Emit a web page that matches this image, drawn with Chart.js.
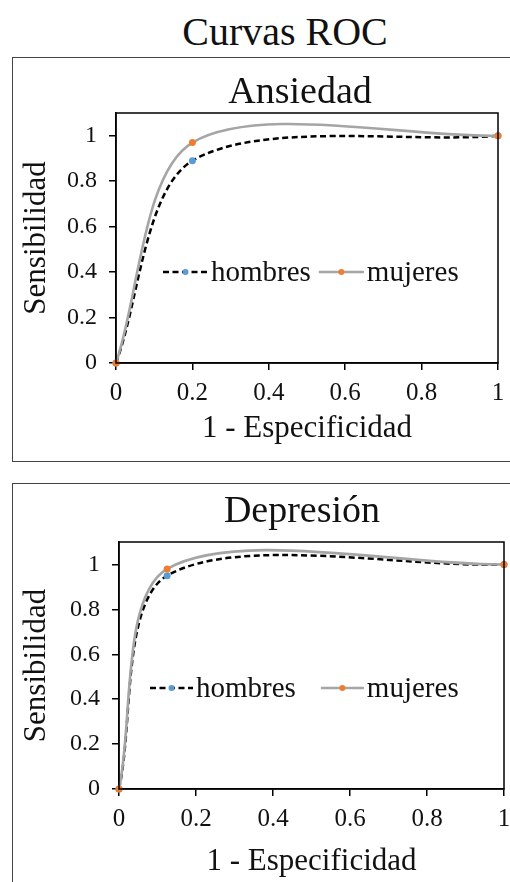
<!DOCTYPE html>
<html>
<head>
<meta charset="utf-8">
<script src="https://cdn.jsdelivr.net/npm/chart.js@4.4.1/dist/chart.umd.min.js"></script>
<style>
  html, body { margin: 0; padding: 0; background: #fff; }
  body { width: 510px; height: 882px; overflow: hidden; position: relative; font-family: "Liberation Serif", "Times New Roman", serif; color: #111; }
  #mainTitle { position: absolute; left: 0; top: 8px; width: 570px; text-align: center; font-size: 40px; }
  .panel { position: absolute; left: 12px; width: 520px; border: 1px solid #444; box-sizing: border-box; }
  .panel canvas { position: absolute; left: 0; top: 0; }
  .subTitle { position: absolute; width: 300px; text-align: center; font-size: 38px; line-height: 38px; white-space: nowrap; }
</style>
</head>
<body>
<div id="mainTitle">Curvas ROC</div>
<div class="panel" id="panel1" style="top:57px; height:405px;"><canvas id="chartAnsiedad"></canvas></div>
<div class="panel" id="panel2" style="top:483px; height:420px;"><canvas id="chartDepresion"></canvas></div>
<div class="subTitle" style="left:150px; top:71px;">Ansiedad</div>
<div class="subTitle" style="left:152px; top:490px;">Depresión</div>

<script>
// Data
const seriesNames = ['hombres', 'mujeres'];
const ansiedadX = [0, 0.2, 1];
const ansiedadHombres = [0, 0.89, 1];
const ansiedadMujeres = [0, 0.97, 1];
const depresionX = [0, 0.125, 1];
const depresionHombres = [0, 0.95, 1];
const depresionMujeres = [0, 0.98, 1];
const tickValues = [0, 0.2, 0.4, 0.6, 0.8, 1];

const FONT = '"Liberation Serif", "Times New Roman", serif';
const BLUE = '#5b9bd5';
const ORANGE = '#ed7d31';
const GRAY = '#a5a5a5';

function toPoints(xs, ys) {
    return xs.map(function(x, i) { return { x: x, y: ys[i] }; });
}

// Plot area frame
const framePlugin = {
    id: 'frame',
    afterDraw: function(chart) {
        const a = chart.chartArea;
        const ctx = chart.ctx;
        ctx.save();
        ctx.strokeStyle = '#000';
        ctx.lineWidth = 1.5;
        ctx.strokeRect(a.left, a.top, a.right - a.left, a.bottom - a.top);
        ctx.restore();
    }
};

// Legend drawn inside the plot area
const innerLegend = {
    id: 'innerLegend',
    afterDraw: function(chart, args, opts) {
        const a = chart.chartArea;
        const ctx = chart.ctx;
        const y = a.top + opts.dy;
        let x = a.left + opts.dx;
        ctx.save();
        ctx.font = '29px ' + FONT;
        ctx.textBaseline = 'middle';
        chart.data.datasets.forEach(function(ds, i) {
            ctx.strokeStyle = ds.borderColor;
            ctx.lineWidth = ds.borderWidth;
            ctx.setLineDash(ds.borderDash || []);
            ctx.beginPath();
            ctx.moveTo(x, y);
            ctx.lineTo(x + opts.lineLen, y);
            ctx.stroke();
            ctx.setLineDash([]);
            ctx.fillStyle = ds.pointBackgroundColor;
            ctx.beginPath();
            ctx.arc(x + opts.lineLen / 2, y, 3, 0, Math.PI * 2);
            ctx.fill();
            ctx.fillStyle = '#111';
            ctx.fillText(ds.label, x + opts.lineLen + 3, y + 1);
            x += opts.lineLen + 3 + ctx.measureText(ds.label).width + opts.gaps[i];
        });
        ctx.restore();
    }
};

function makeChart(id, xs, hombres, mujeres, box) {
    const ctx = document.getElementById(id);
    ctx.width = box.w;
    ctx.height = box.h;
    return new Chart(ctx, {
        type: 'scatter',
        data: {
            datasets: [{
                label: seriesNames[0],
                data: toPoints(xs, hombres),
                showLine: true,
                borderColor: '#000',
                borderWidth: 2.5,
                borderDash: [6, 3.5],
                tension: 0.3,
                pointRadius: 3.5,
                pointBackgroundColor: BLUE,
                pointBorderWidth: 0,
                order: 2
            }, {
                label: seriesNames[1],
                data: toPoints(xs, mujeres),
                showLine: true,
                borderColor: GRAY,
                borderWidth: 2.6,
                tension: 0.3,
                pointRadius: 3.5,
                pointBackgroundColor: ORANGE,
                pointBorderWidth: 0,
                order: 1
            }]
        },
        options: {
            responsive: false,
            animation: false,
            clip: false,
            layout: { padding: { top: box.top, right: box.right, bottom: 0, left: 0 } },
            elements: { line: { capBezierPoints: false } },
            plugins: {
                legend: { display: false },
                tooltip: { enabled: false },
                title: { display: false },
                innerLegend: box.legend
            },
            scales: {
                x: {
                    type: 'linear',
                    min: 0,
                    max: 1,
                    afterBuildTicks: function(s) { s.ticks = tickValues.map(function(v) { return { value: v }; }); },
                    afterFit: function(s) { s.height = box.xh; s.paddingLeft = 0; s.paddingRight = 0; },
                    grid: { display: true, drawOnChartArea: false, drawTicks: true, tickLength: 7, color: '#000', lineWidth: 1.5 },
                    border: { display: true, color: '#000', width: 1.5 },
                    ticks: { color: '#111', padding: 8, font: { family: FONT, size: 25 }, maxRotation: 0, callback: function(v) { return String(v); } },
                    title: { display: true, text: '1 - Especificidad', color: '#111', font: { family: FONT, size: 31 }, padding: { top: 0, bottom: box.xTitlePad } }
                },
                y: {
                    type: 'linear',
                    min: 0,
                    max: 1.1,
                    afterBuildTicks: function(s) { s.ticks = tickValues.map(function(v) { return { value: v }; }); },
                    afterFit: function(s) { s.width = box.yw; s.paddingTop = 0; s.paddingBottom = 0; },
                    grid: { display: true, drawOnChartArea: false, drawTicks: true, tickLength: 7, color: '#000', lineWidth: 1.5 },
                    border: { display: true, color: '#000', width: 1.5 },
                    ticks: { color: '#111', padding: 12, font: { family: FONT, size: 24 }, callback: function(v) { return String(v); } },
                    title: { display: true, text: 'Sensibilidad', color: '#111', font: { family: FONT, size: 31 }, padding: { top: 5, bottom: 0 } }
                }
            }
        },
        plugins: [framePlugin, innerLegend]
    });
}

makeChart('chartAnsiedad', ansiedadX, ansiedadHombres, ansiedadMujeres, {
    w: 498, h: 403, top: 55, right: 13, yw: 103, xh: 98, xTitlePad: 14,
    legend: { dx: 47, dy: 159, lineLen: 45, gaps: [8, 0] }
});
makeChart('chartDepresion', depresionX, depresionHombres, depresionMujeres, {
    w: 498, h: 398, top: 58, right: 7, yw: 106, xh: 93, xTitlePad: 2,
    legend: { dx: 31, dy: 146, lineLen: 43, gaps: [25, 0] }
});
</script>
</body>
</html>
